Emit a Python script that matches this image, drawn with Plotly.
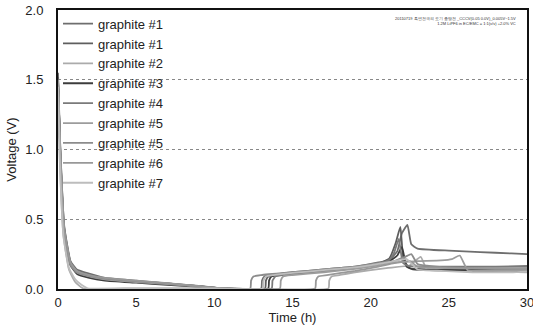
import plotly.graph_objects as go

names = ["graphite #1", "graphite #1", "graphite #2", "graphite #3", "graphite #4",
         "graphite #5", "graphite #5", "graphite #6", "graphite #7"]
colors = ["#6e6e6e", "#5e5e5e", "#ababab", "#3c3c3c", "#7a7a7a",
          "#9c9c9c", "#8c8c8c", "#989898", "#bdbdbd"]

t1 = [0, 0.15, 0.4, 0.8, 1.2, 2, 3, 5, 7, 9, 10.5, 13.0, 13.05, 13.2, 13.7, 15, 17, 19, 20.5, 21.2, 21.7, 22.0, 22.35, 22.6, 23, 25, 27, 29, 30]
v1 = [1.55, 1.0, 0.45, 0.2, 0.14, 0.11, 0.08, 0.06, 0.04, 0.02, 0.005, 0.005, 0.06, 0.09, 0.1, 0.12, 0.14, 0.16, 0.19, 0.21, 0.27, 0.4, 0.46, 0.32, 0.29, 0.275, 0.265, 0.255, 0.25]

t2 = [0, 0.15, 0.4, 0.8, 1.2, 2, 3, 5, 7, 9, 10.5, 13.25, 13.3, 13.45, 14, 15, 17, 19, 20.5, 21.2, 21.6, 21.9, 22.1, 22.5, 24, 27, 30]
v2 = [1.52, 0.95, 0.42, 0.18, 0.12, 0.09, 0.07, 0.05, 0.035, 0.02, 0.005, 0.005, 0.06, 0.09, 0.1, 0.115, 0.135, 0.155, 0.18, 0.22, 0.33, 0.445, 0.21, 0.15, 0.14, 0.14, 0.145]

t3 = [0, 0.12, 0.35, 0.7, 1.1, 1.6, 5, 10, 17.3, 17.35, 17.5, 18, 19, 21, 22.5, 23.2, 23.6, 25, 28, 30]
v3 = [1.45, 0.9, 0.38, 0.14, 0.05, 0.005, 0.005, 0.005, 0.005, 0.06, 0.09, 0.1, 0.12, 0.15, 0.17, 0.23, 0.14, 0.13, 0.125, 0.12]

t4 = [0, 0.15, 0.4, 0.8, 1.2, 2, 3, 5, 7, 9, 10.5, 13.45, 13.5, 13.65, 14.2, 15, 17, 19, 20.5, 21.2, 21.7, 22.0, 22.3, 22.7, 25, 28, 30]
v4 = [1.5, 0.97, 0.4, 0.17, 0.11, 0.08, 0.06, 0.045, 0.03, 0.015, 0.005, 0.005, 0.06, 0.09, 0.1, 0.11, 0.13, 0.15, 0.175, 0.2, 0.24, 0.3, 0.16, 0.14, 0.135, 0.13, 0.13]

t5 = [0, 0.15, 0.4, 0.8, 1.2, 2, 3, 5, 7, 9, 10.5, 13.67, 13.72, 13.9, 14.4, 15, 17, 19, 20.5, 21.2, 21.5, 21.8, 22.05, 22.4, 25, 28, 30]
v5 = [1.5, 1.0, 0.44, 0.19, 0.13, 0.1, 0.075, 0.055, 0.04, 0.022, 0.005, 0.005, 0.06, 0.09, 0.1, 0.11, 0.13, 0.15, 0.18, 0.21, 0.26, 0.36, 0.19, 0.165, 0.16, 0.16, 0.165]

t6 = [0, 0.15, 0.4, 0.8, 1.2, 2, 3, 5, 7, 9, 10.5, 14.2, 14.25, 14.4, 15, 17, 19, 20.5, 21.5, 23, 24.5, 25.2, 25.7, 26.2, 27, 30]
v6 = [1.48, 0.96, 0.41, 0.18, 0.12, 0.09, 0.07, 0.05, 0.035, 0.018, 0.005, 0.005, 0.06, 0.09, 0.1, 0.12, 0.145, 0.17, 0.19, 0.2, 0.205, 0.215, 0.24, 0.135, 0.13, 0.135]

t7 = [0, 0.15, 0.4, 0.8, 1.2, 2, 3, 5, 7, 9, 10.5, 12.3, 12.35, 12.5, 13, 15, 17, 19, 20.5, 21.5, 22.2, 22.6, 23.0, 25, 28, 30]
v7 = [1.47, 0.95, 0.4, 0.17, 0.12, 0.095, 0.075, 0.055, 0.04, 0.02, 0.005, 0.005, 0.06, 0.09, 0.1, 0.12, 0.14, 0.16, 0.185, 0.2, 0.23, 0.25, 0.18, 0.155, 0.15, 0.15]

t8 = [0, 0.15, 0.4, 0.8, 1.2, 2, 3, 5, 7, 9, 10.5, 16.45, 16.5, 16.65, 17.2, 19, 20.5, 21.5, 22.5, 23.0, 25, 28, 30]
v8 = [1.5, 0.98, 0.43, 0.19, 0.13, 0.1, 0.08, 0.06, 0.042, 0.02, 0.005, 0.005, 0.06, 0.09, 0.1, 0.13, 0.16, 0.185, 0.2, 0.16, 0.15, 0.145, 0.145]

t9 = [0, 0.12, 0.35, 0.7, 1.1, 1.5, 1.9, 5, 10, 13.1, 13.15, 13.3, 13.8, 15, 17, 19, 20.5, 21.5, 22.3, 23.0, 24.5, 26.5, 29, 30]
v9 = [1.45, 0.92, 0.38, 0.15, 0.07, 0.03, 0.005, 0.005, 0.005, 0.005, 0.06, 0.09, 0.1, 0.115, 0.135, 0.155, 0.18, 0.2, 0.215, 0.14, 0.13, 0.12, 0.12, 0.125]

ts = [t1, t2, t3, t4, t5, t6, t7, t8, t9]
vs = [v1, v2, v3, v4, v5, v6, v7, v8, v9]

x_ticks = [0, 5, 10, 15, 20, 25, 30]
y_ticks = [0.0, 0.5, 1.0, 1.5, 2.0]
y_tick_text = ["0.0", "0.5", "1.0", "1.5", "2.0"]

fig = go.Figure()
for n, c, t, v in zip(names, colors, ts, vs):
    fig.add_trace(go.Scatter(x=t, y=v, mode="lines", name=n,
                             line=dict(color=c, width=1.8, shape="spline", smoothing=0.4)))

font_family = "Liberation Sans, Arial, sans-serif"
fig.update_layout(
    width=533, height=328,
    margin=dict(l=58, r=6, t=10, b=39),
    plot_bgcolor="white", paper_bgcolor="white",
    font=dict(family=font_family, size=13, color="#222"),
    showlegend=True,
    legend=dict(x=0.0, y=1.005, xanchor="left", yanchor="top", maxheight=1.0,
                bgcolor="rgba(0,0,0,0)", font=dict(size=13, color="#222"),
                tracegroupgap=0),
    annotations=[dict(
        text="20110719 흑연전극의 조기 충방전 _CCCV(0.05 0.0V)_0.005V~1.5V<br>1.2M LiPF6 in EC/EMC = 1:1(v/v) +2.0% VC",
        x=0.98, y=0.985, xref="paper", yref="paper", xanchor="right", yanchor="top",
        align="right", showarrow=False, font=dict(size=4, color="#333"))],
)
fig.update_xaxes(range=[0, 30], tickvals=x_ticks, showline=True, linecolor="#111", linewidth=2,
                 mirror=True, showgrid=False, zeroline=False, ticks="", layer="below traces",
                 automargin=False, ticklabeloverflow="allow",
                 title=dict(text="Time (h)", standoff=0, font=dict(size=13)))
fig.update_yaxes(range=[0, 2], tickvals=y_ticks, ticktext=y_tick_text, showline=True,
                 linecolor="#111", linewidth=2, mirror=True, showgrid=True,
                 gridcolor="#888", griddash="dot", gridwidth=1, zeroline=False, ticks="",
                 ticklabelstandoff=10, layer="below traces", automargin=False,
                 ticklabeloverflow="allow",
                 title=dict(text="Voltage (V)", standoff=6, font=dict(size=13)))

fig.write_html("out.html")
